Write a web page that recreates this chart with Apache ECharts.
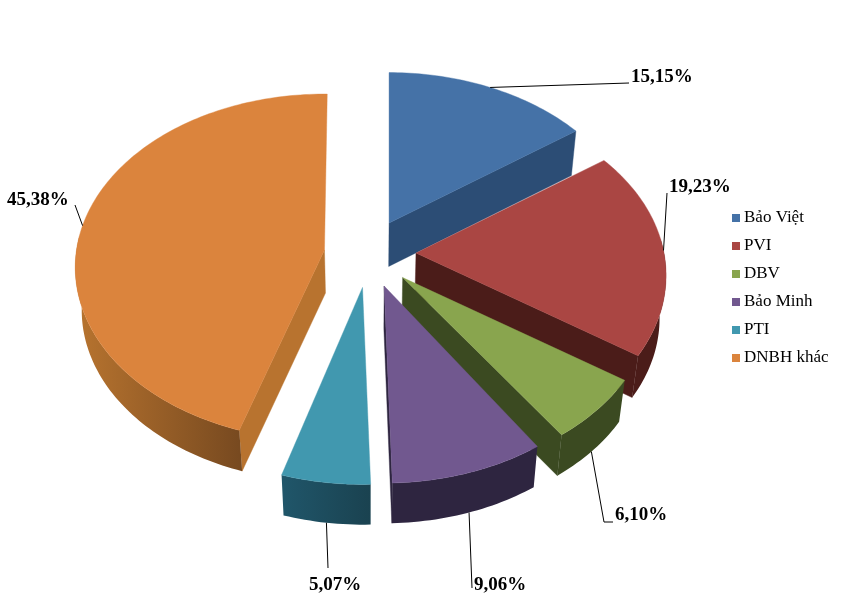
<!DOCTYPE html>
<html>
<head>
<meta charset="utf-8">
<style>html,body{margin:0;padding:0;background:#fff}#c{width:861px;height:599px}</style>
<script src="https://cdn.jsdelivr.net/npm/echarts@6/dist/echarts.min.js"></script>
</head>
<body>
<div id="c"></div>
<script>
// ---- data ----
const categories = ['Bảo Việt', 'PVI', 'DBV', 'Bảo Minh', 'PTI', 'DNBH khác'];
const values = [15.15, 19.23, 6.10, 9.06, 5.07, 45.38];

// ---- styles ----
const topColors = ['#4572A7', '#AA4643', '#89A54E', '#71588F', '#4198AF', '#DB843D'];
const edgeColors = ['#2c4d75', '#4b1c19', '#3b4a21', '#2e2540', '#1c4a5a', '#b8732f'];
const wallStart = ['#2c4d75', '#4b1c19', '#3b4a21', '#2e2540', '#20566a', '#b8742f'];
const wallEnd = ['#2c4d75', '#4b1c19', '#3b4a21', '#2e2540', '#1a4250', '#784a20'];
const tilts = [0.14, 0.129, 0.129, 0.129, 0.129, 0.1];
const drawOrder = [0, 5, 1, 2, 4, 3];
// small per-slice layout corrections: start/end edge in degrees, apex shift in pixels
const startNudge = [0, 0, 0, 0.8, 0, 1.5];
const endNudge = [0, 0, -0.7, 0, 0, 0.7];
const apexNudge = [[-2, 0], [0, 0], [0, 0], [0, 0], [-1.5, 0], [0, 1.5]];
const elbows = [[629, 83], [667, 193], [604, 522], [472, 588], [328, 568], [75, 205]];
const elbowEnds = [null, null, [613, 522], null, null, null];
const labelBoxes = [[631, 77], [669, 187], [615, 515], [474, 585], [309, 585], [7, 200]];

// ---- projection of the exploded, tilted pie ----
const CX = 370, CY = 253.5, EX = 46, EY = 34.2, RX = 248, RY = 171.6, DEPTH = 43, SHRINK = 0.978;
const total = values.reduce((a, b) => a + b, 0);
const starts = [];
values.reduce((acc, v, i) => { starts[i] = acc; return acc + v; }, 0);
const ang = p => p / total * Math.PI * 2;
const DEG = Math.PI / 180;

function sliceGeom(i) {
  const base0 = ang(starts[i]), base1 = ang(starts[i] + values[i]), mid = (base0 + base1) / 2, k = tilts[i];
  const a0 = base0 + startNudge[i] * DEG, a1 = base1 + endNudge[i] * DEG;
  const ax = CX + EX * Math.sin(mid) + apexNudge[i][0], ay = CY - EY * Math.cos(mid) + apexNudge[i][1];
  const pt = a => {
    const u = Math.sin(a), v = -Math.cos(a), d = 1 - k * v;
    return [ax + RX * u / d, ay + RY * v / d];
  };
  const low = p => [CX + (p[0] - CX) * SHRINK, p[1] + DEPTH - (p[1] - CY) * 0.012];
  const arc = [], front = [];
  const n = Math.max(6, Math.ceil((a1 - a0) / 0.02));
  for (let j = 0; j <= n; j++) {
    const a = a0 + (a1 - a0) * j / n, p = pt(a);
    arc.push(p);
    if (-Math.cos(a) > -0.1) front.push(p);
  }
  return { a0, a1, mid, k, apex: [ax, ay], pt, low, arc, front };
}

function renderSlice(i) {
  const g = sliceGeom(i), children = [];
  const poly = (points, fill) => children.push({
    type: 'polygon', shape: { points }, style: { fill, stroke: fill, lineWidth: 0.4 }, silent: true
  });
  const first = g.arc[0], last = g.arc[g.arc.length - 1];
  if (first[0] - g.apex[0] < -5) poly([g.apex, first, g.low(first), g.low(g.apex)], edgeColors[i]);
  if (last[0] - g.apex[0] > 5) poly([g.apex, last, g.low(last), g.low(g.apex)], edgeColors[i]);
  if (g.front.length > 1) {
    const minX = Math.min(...g.front.map(p => p[0]));
    const wallFill = {
      type: 'linear', global: true, x: minX, y: 0, x2: Math.max(first[0], minX + 1), y2: 0,
      colorStops: [{ offset: 0, color: wallStart[i] }, { offset: 1, color: wallEnd[i] }]
    };
    children.push({
      type: 'polygon',
      shape: { points: g.front.concat(g.front.map(g.low).reverse()) },
      style: { fill: wallFill }, silent: true
    });
  }
  poly([g.apex].concat(g.arc), topColors[i]);
  return { type: 'group', children };
}

function renderLabel(i) {
  const g = sliceGeom(i);
  const m = g.pt(g.mid);
  const front = -Math.cos(g.mid) > g.k + 0.3;
  const anchor = front ? g.low(m) : m;
  const pts = [anchor, elbows[i]];
  if (elbowEnds[i]) pts.push(elbowEnds[i]);
  return {
    type: 'group', children: [
      { type: 'polyline', shape: { points: pts }, style: { stroke: '#000', lineWidth: 1, fill: 'none' }, silent: true },
      { type: 'text', x: labelBoxes[i][0], y: labelBoxes[i][1], silent: true,
        style: { text: values[i].toFixed(2).replace('.', ',') + '%',
          font: 'bold 19px "Liberation Serif"', fill: '#000', textAlign: 'left', textVerticalAlign: 'middle' } }
    ]
  };
}

const series = categories.map((name, i) => ({
  type: 'custom', name, coordinateSystem: 'none', silent: true, animation: false,
  z: 2 + drawOrder.indexOf(i),
  itemStyle: { color: topColors[i] },
  data: [values[i]],
  renderItem: () => renderSlice(i)
}));
series.push({
  type: 'custom', name: 'labels', coordinateSystem: 'none', silent: true, animation: false, z: 20,
  data: values,
  renderItem: params => renderLabel(params.dataIndex)
});

const chart = echarts.init(document.getElementById('c'), null, { renderer: 'canvas' });
chart.setOption({
  backgroundColor: '#fff',
  animation: false,
  legend: {
    data: categories, orient: 'vertical', left: 732, top: 209, padding: 0,
    itemWidth: 8, itemHeight: 8, itemGap: 10, selectedMode: false,
    icon: 'rect',
    textStyle: { fontFamily: '"Liberation Serif"', fontSize: 17, color: '#000', lineHeight: 18, padding: [0, 0, 0, -1] }
  },
  series
});
</script>
</body>
</html>
